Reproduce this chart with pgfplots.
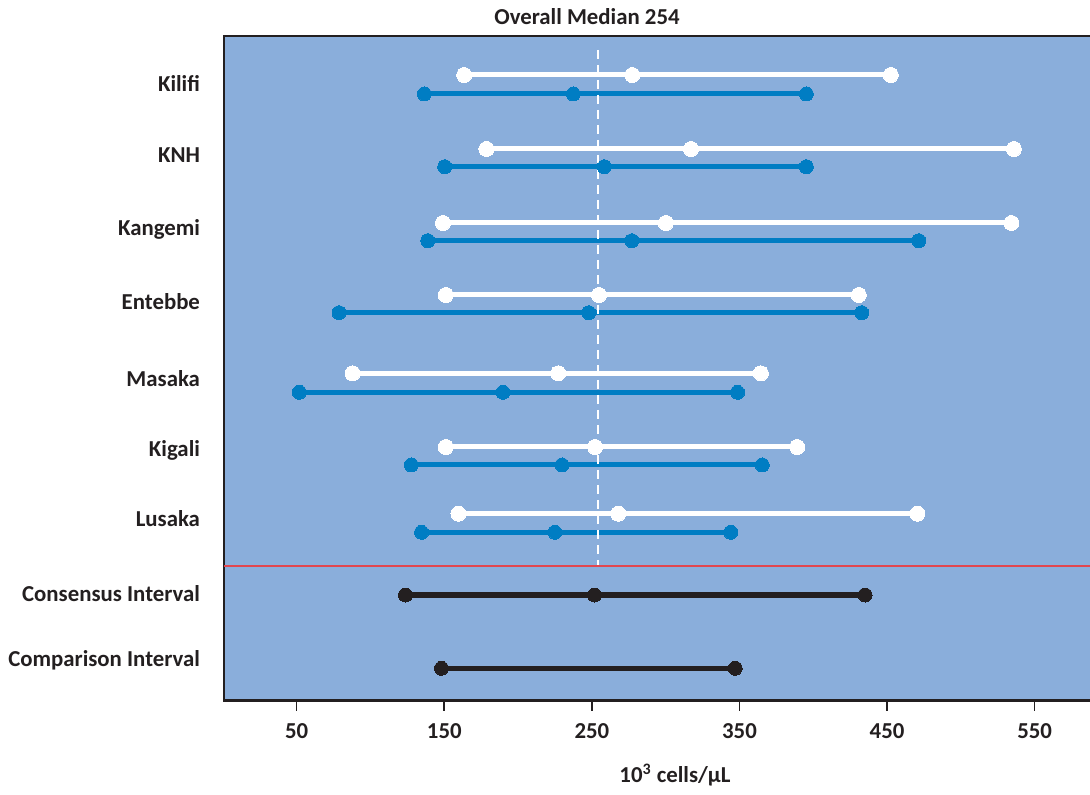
\documentclass[border=0pt]{standalone}
\usepackage{pgfplots}
\pgfplotsset{compat=1.18}
\usepackage{fontspec}
\setmainfont{Carlito}

\definecolor{panel}{RGB}{138,174,219}
\definecolor{siteblue}{RGB}{0,125,195}
\definecolor{ink}{RGB}{35,31,32}
\definecolor{sepred}{HTML}{E2464F}

\tikzset{
  wline/.style={draw=white, line width=2.5pt, mark=*, mark size=3.75pt,
    mark options={fill=white, draw=white, line width=0pt}},
  bline/.style={draw=siteblue, line width=2.5pt, mark=*, mark size=3.5pt,
    mark options={fill=siteblue, draw=siteblue, line width=0pt}},
  kline/.style={draw=ink, line width=2.6pt, mark=*, mark size=3.5pt,
    mark options={fill=ink, draw=ink, line width=0pt}},
}

\begin{document}
\begin{tikzpicture}
\begin{axis}[
  scale only axis,
  width=433pt, height=332.3pt,
  xmin=0.75, xmax=587.5,
  ymin=36, ymax=700.6, y dir=reverse,
  clip=false,
  axis background/.style={fill=panel},
  axis line style={draw=none},
  font=\bfseries\fontsize{11.4}{13}\selectfont,
  /pgf/number format/assume math mode=true,
  xtick={50,150,...,550},
  xtick pos=lower,
  tick align=outside,
  major tick length=5pt,
  x tick style={draw=ink, line width=0.8pt},
  ytick={83,155,229,302,379,450,519,594,660},
  yticklabels={Kilifi,KNH,Kangemi,Entebbe,Masaka,Kigali,Lusaka,Consensus Interval,Comparison Interval},
  ytick pos=left,
  y tick style={draw=none},
  yticklabel style={anchor=east, xshift=-3.5pt, text=ink},
  xticklabel style={text=ink, yshift=-3pt},
]
% frame on top, left and bottom
\draw[ink, line width=1.3pt] (rel axis cs:1,1) -- (rel axis cs:0,1) -- (rel axis cs:0,0) -- (rel axis cs:1,0);

% Kilifi
\addplot[wline] coordinates {(163.5,75) (277.4,75) (452.5,75)};
\addplot[bline] coordinates {(136.5,94) (237.4,94) (395.3,94)};
% KNH
\addplot[wline] coordinates {(178.6,149) (317.2,149) (535.9,149)};
\addplot[bline] coordinates {(150.3,166.7) (258.4,166.7) (395.3,166.7)};
% Kangemi
\addplot[wline] coordinates {(149.1,223) (300.1,223) (534.3,223)};
\addplot[bline] coordinates {(138.8,240.7) (277.1,240.7) (471.5,240.7)};
% Entebbe
\addplot[wline] coordinates {(151.0,295) (254.8,295) (430.8,295)};
\addplot[bline] coordinates {(78.7,312.7) (247.9,312.7) (432.8,312.7)};
% Masaka
\addplot[wline] coordinates {(87.9,373.3) (227.2,373.3) (364.5,373.3)};
\addplot[bline] coordinates {(51.8,392.3) (189.8,392.3) (348.7,392.3)};
% Kigali
\addplot[wline] coordinates {(151.0,447) (252.2,447) (389.1,447)};
\addplot[bline] coordinates {(127.7,465) (229.8,465) (365.4,465)};
% Lusaka
\addplot[wline] coordinates {(159.6,513.7) (267.9,513.7) (470.5,513.7)};
\addplot[bline] coordinates {(134.6,532.3) (224.9,532.3) (344.1,532.3)};

% separator between sites and summary intervals
\addplot[color=sepred, line width=1pt, mark=none] coordinates {(0.75,565.7) (587.5,565.7)};

% Consensus and comparison intervals
\addplot[kline] coordinates {(123.7,595) (251.8,595) (435.1,595)};
\addplot[kline] coordinates {(148.1,668.3) (347.1,668.3)};

% overall median
\addplot[draw=white, line width=0.75pt, mark=none, dash pattern=on 4.5pt off 3pt] coordinates {(254,50) (254,565)};

\node[ink, anchor=center] at (axis cs:246.7,17) {Overall Median 254};
\node[ink, anchor=center] at (axis cs:306.3,775) {10\textsuperscript{3} cells/µL};

\coordinate (ll) at (axis cs:0.75,700.6);
\coordinate (ur) at (axis cs:587.5,36);
\end{axis}
\pgfresetboundingbox
\path ([shift={(-112pt,-47.2pt)}]ll) rectangle ([shift={(0pt,18pt)}]ur);
\end{tikzpicture}
\end{document}
